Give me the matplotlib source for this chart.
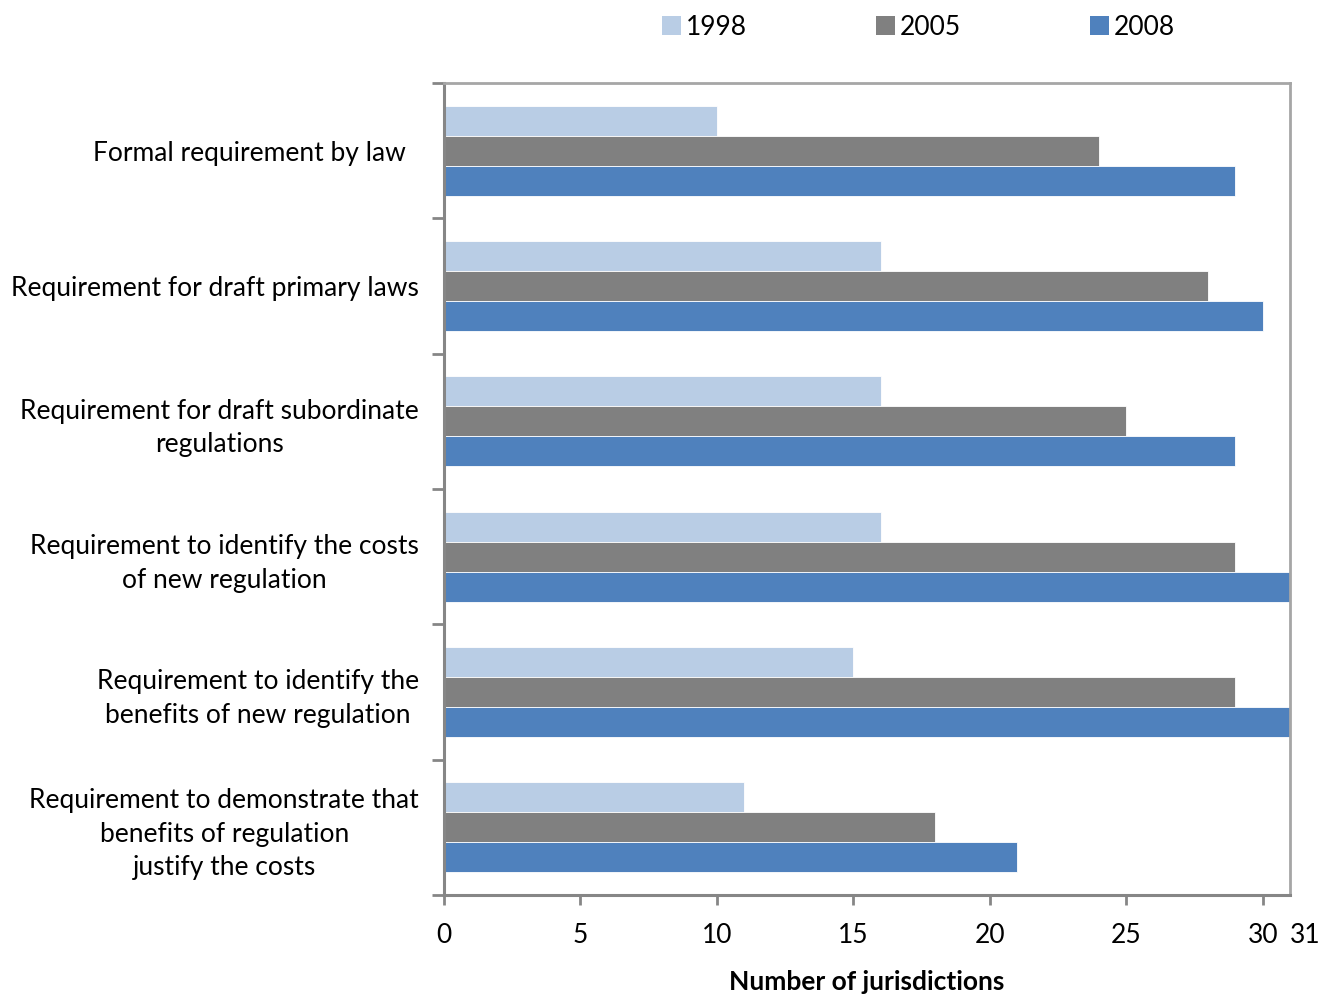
import numpy as np
import matplotlib
matplotlib.use("Agg")
import matplotlib.pyplot as plt
from matplotlib.patches import Patch

categories = [
    "Formal requirement by law  ",
    "Requirement for draft primary laws",
    "Requirement for draft subordinate\nregulations",
    "Requirement to identify the costs\nof new regulation",
    "Requirement to identify the\nbenefits of new regulation",
    "Requirement to demonstrate that\nbenefits of regulation\njustify the costs",
]
years = ["1998", "2005", "2008"]
vals_1998 = [10, 16, 16, 16, 15, 11]
vals_2005 = [24, 28, 25, 29, 29, 18]
vals_2008 = [29, 30, 29, 31, 31, 21]
colors = ["#B9CDE5", "#808080", "#4F81BD"]
xticks = [0, 5, 10, 15, 20, 25, 30, 31]

plt.rcParams["font.family"] = ["Lato", "DejaVu Sans"]
FS = 19

fig = plt.figure(figsize=(13.18, 9.94), dpi=100)
ax = fig.add_axes([444 / 1318, 1 - 895 / 994, (1290 - 444) / 1318, (895 - 83) / 994])

n = len(categories)
y = np.arange(n)
h = 0.222
series = [vals_1998, vals_2005, vals_2008]
for i, (vals, c) in enumerate(zip(series, colors)):
    ax.barh(y + (i - 1) * h, vals, height=h, color=c, edgecolor="white", linewidth=0.6, zorder=2)

ax.set_xlim(0, 31)
ax.set_ylim(n - 0.5, -0.5)
ax.set_xticks(xticks)
ax.set_xticklabels([str(t) for t in xticks], fontsize=FS)
ax.tick_params(axis="x", length=7, width=2, color="#868686", pad=13)
# no tick mark at 31, and its label sits just right of the corner
ax.xaxis.get_major_ticks()[-1].tick1line.set_visible(False)
ax.get_xticklabels()[-1].set_horizontalalignment("left")

ax.set_yticks(y)
ax.set_yticklabels(categories, fontsize=FS, multialignment="center", linespacing=1.42)
ax.tick_params(axis="y", length=0, pad=18)
ax.set_yticks(np.arange(n + 1) - 0.5, minor=True)
ax.tick_params(axis="y", which="minor", length=9, width=2, color="#868686")

for side in ["left", "bottom"]:
    ax.spines[side].set_color("#868686")
    ax.spines[side].set_linewidth(2.2)
for side in ["top", "right"]:
    ax.spines[side].set_color("#A6A6A6")
    ax.spines[side].set_linewidth(2)

ax.set_xlabel("Number of jurisdictions", fontsize=FS, fontweight="bold", labelpad=16)

handles = [Patch(facecolor=c, edgecolor="none") for c in colors]
fig.legend(handles, years, loc="upper center", bbox_to_anchor=(0.697, 1.009), ncol=3,
           frameon=False, fontsize=FS, handlelength=0.7, handleheight=0.7,
           handletextpad=0.2, columnspacing=4.9)

fig.savefig("out.png", dpi=100)
